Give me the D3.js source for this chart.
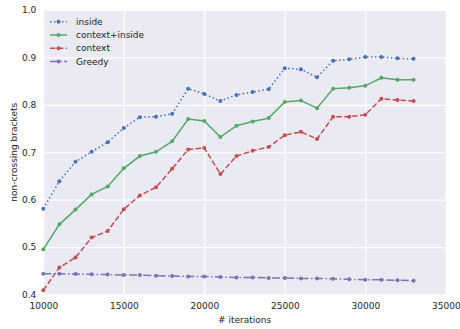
<!DOCTYPE html>
<html>
<head>
<meta charset="utf-8">
<script src="https://cdn.jsdelivr.net/npm/d3@7"></script>
<style>
  body { margin: 0; background: #fff; }
  text { font-family: "DejaVu Sans", sans-serif; fill: #262626; }
</style>
</head>
<body>
<div class="box"></div>
<script>
const iterations = [10000, 11000, 12000, 13000, 14000, 15000, 16000, 17000, 18000, 19000, 20000, 21000,
                    22000, 23000, 24000, 25000, 26000, 27000, 28000, 29000, 30000, 31000, 32000, 33000];

const inside = [0.581, 0.639, 0.680, 0.701, 0.721, 0.751, 0.774, 0.775, 0.781, 0.834, 0.823, 0.808,
                0.821, 0.827, 0.833, 0.877, 0.875, 0.858, 0.893, 0.896, 0.901, 0.901, 0.898, 0.897];
const contextInside = [0.495, 0.548, 0.579, 0.611, 0.628, 0.666, 0.692, 0.701, 0.723, 0.770, 0.766, 0.732,
                       0.756, 0.765, 0.772, 0.806, 0.809, 0.793, 0.834, 0.836, 0.840, 0.857, 0.853, 0.853];
const context = [0.409, 0.457, 0.478, 0.520, 0.534, 0.580, 0.609, 0.626, 0.665, 0.706, 0.709, 0.654,
                 0.692, 0.703, 0.711, 0.736, 0.743, 0.728, 0.775, 0.775, 0.779, 0.813, 0.810, 0.808];
const greedy = [0.444, 0.4437, 0.443, 0.4425, 0.442, 0.441, 0.441, 0.4395, 0.439, 0.438, 0.438, 0.437,
                0.436, 0.436, 0.435, 0.435, 0.434, 0.434, 0.433, 0.432, 0.431, 0.431, 0.430, 0.429];

const xTicks = [10000, 15000, 20000, 25000, 30000, 35000];
const yTicks = [0.4, 0.5, 0.6, 0.7, 0.8, 0.9, 1.0];

const series = [
  {name: 'inside', values: inside, color: '#4C72B0', dash: '1.5,2.5'},
  {name: 'context+inside', values: contextInside, color: '#55A868', dash: null},
  {name: 'context', values: context, color: '#C44E52', dash: '5.5,2.4'},
  {name: 'Greedy', values: greedy, color: '#8172B2', dash: '8,2.4,1.5,2.4'}
];

const dims = {width: 460, height: 329, left: 43.3, right: 445.8, top: 10, bottom: 294.5};
const fontSize = 9;

const svg = d3.select('.box')
              .append('svg')
              .attr('width', dims.width)
              .attr('height', dims.height);

const x = d3.scaleLinear().domain([10000, 35000]).range([dims.left, dims.right]);
const y = d3.scaleLinear().domain([0.4, 1.0]).range([dims.bottom, dims.top]);

// fond
svg.append('rect')
   .attr('x', dims.left).attr('y', dims.top)
   .attr('width', dims.right - dims.left)
   .attr('height', dims.bottom - dims.top)
   .attr('fill', '#EAEAF2');

// grilles
svg.append('g')
   .attr('transform', `translate(0, ${dims.bottom})`)
   .call(d3.axisBottom(x).tickValues(xTicks).tickSize(-(dims.bottom - dims.top)).tickPadding(8).tickFormat(d3.format('d')))
   .call(g => g.select('.domain').remove())
   .call(g => g.selectAll('line').attr('stroke', '#fff').attr('stroke-width', 1.1))
   .call(g => g.selectAll('text').attr('font-size', fontSize).attr('fill', '#262626').attr('font-family', '"DejaVu Sans", sans-serif'));

svg.append('g')
   .attr('transform', `translate(${dims.left}, 0)`)
   .call(d3.axisLeft(y).tickValues(yTicks).tickSize(-(dims.right - dims.left)).tickPadding(7).tickFormat(d3.format('.1f')))
   .call(g => g.select('.domain').remove())
   .call(g => g.selectAll('line').attr('stroke', '#fff').attr('stroke-width', 1.1))
   .call(g => g.selectAll('text').attr('font-size', fontSize).attr('fill', '#262626').attr('font-family', '"DejaVu Sans", sans-serif'));

// titres des axes
svg.append('text')
   .attr('x', (dims.left + dims.right) / 2)
   .attr('y', 322.5)
   .attr('text-anchor', 'middle')
   .attr('font-size', fontSize)
   .text('# iterations');

svg.append('text')
   .attr('transform', `translate(17, ${(dims.top + dims.bottom) / 2}) rotate(-90)`)
   .attr('text-anchor', 'middle')
   .attr('font-size', fontSize)
   .text('non-crossing brackets');

const line = d3.line()
               .x((d, i) => x(iterations[i]))
               .y(d => y(d));

const plot = svg.append('g');

series.forEach(s => {
  plot.append('path')
      .attr('d', line(s.values))
      .attr('fill', 'none')
      .attr('stroke', s.color)
      .attr('stroke-width', 1.5)
      .attr('stroke-dasharray', s.dash);

  plot.selectAll(null)
      .data(s.values)
      .enter()
      .append('circle')
      .attr('cx', (d, i) => x(iterations[i]))
      .attr('cy', d => y(d))
      .attr('r', 2)
      .attr('fill', s.color);
});

// légende
const legend = svg.append('g');
series.forEach((s, i) => {
  const ly = 21.7 + i * 13.3;
  legend.append('line')
        .attr('x1', 50).attr('x2', 67)
        .attr('y1', ly).attr('y2', ly)
        .attr('stroke', s.color)
        .attr('stroke-width', 1.5)
        .attr('stroke-dasharray', s.dash);
  legend.append('circle')
        .attr('cx', 58.5).attr('cy', ly).attr('r', 2)
        .attr('fill', s.color);
  legend.append('text')
        .attr('x', 76).attr('y', ly)
        .attr('dy', '0.35em')
        .attr('font-size', fontSize)
        .text(s.name);
});
</script>
</body>
</html>
